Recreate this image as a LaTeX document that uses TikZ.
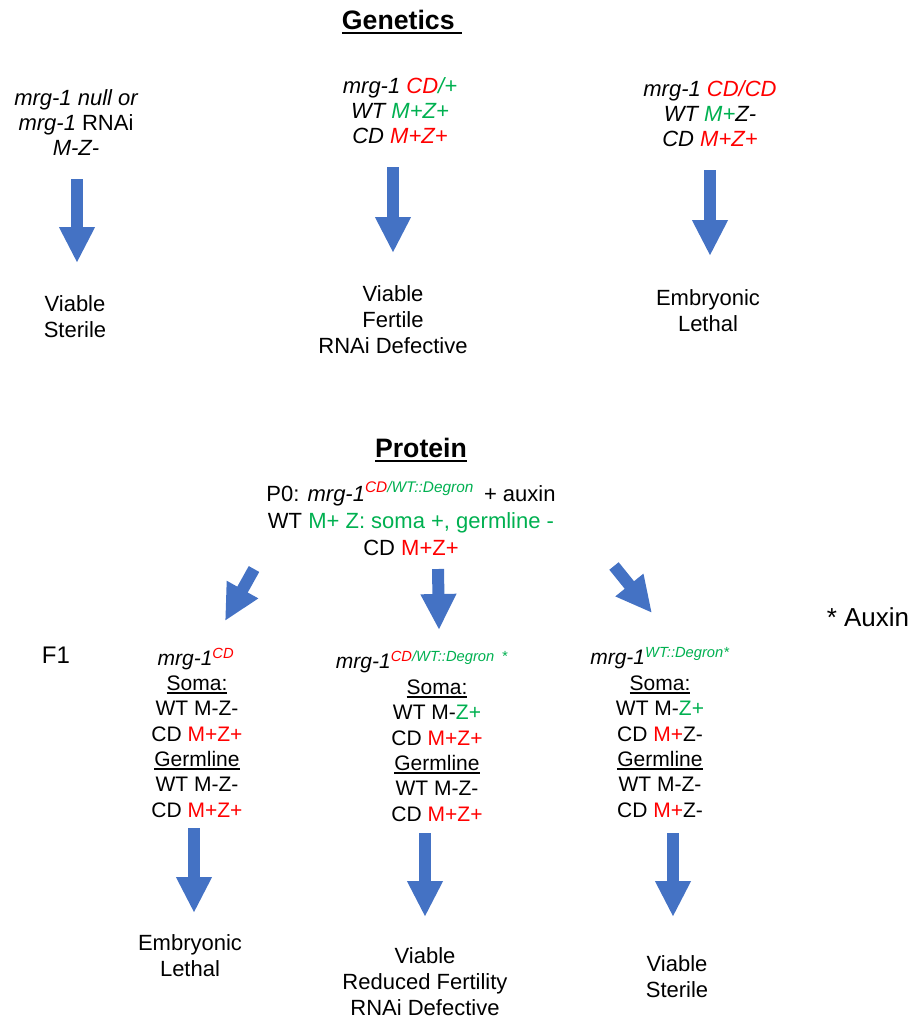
\documentclass[tikz,border=0pt]{standalone}
\usepackage{fontspec}
\setmainfont{Liberation Sans}
\usepackage{tikz}
\usepackage{xcolor}
\usetikzlibrary{arrows.meta}

\definecolor{cdred}{RGB}{255,0,0}
\definecolor{wtgreen}{RGB}{0,176,80}
\definecolor{arrowblue}{RGB}{68,114,196}
\newcommand{\cdc}[1]{\textcolor{cdred}{#1}}
\newcommand{\wtc}[1]{\textcolor{wtgreen}{#1}}
\newcommand{\undl}[3][1.2pt]{\leavevmode\sbox0{#3}\rlap{\rule[#2]{\wd0}{#1}}\usebox0}

\begin{document}
\begin{tikzpicture}[x=0.75pt,y=-0.75pt]
	 \tikzstyle{txt}=[align=center,inner sep=0pt,anchor=base,font=\fontsize{16.5}{18.75}\selectfont]
	 \tikzstyle{result}=[txt,font=\fontsize{16.5}{19.5}\selectfont]
	 \tikzstyle{f1 txt}=[txt,font=\fontsize{15.75}{19}\selectfont]
	 \tikzstyle{heading}=[txt,font=\fontsize{20}{24}\selectfont\bfseries]
	 \tikzstyle{fat arrow}=[draw=arrowblue,line width=9pt,-{Triangle[length=27pt,width=25pt]}]
	 \useasboundingbox (0,0) rectangle (915,1018);
	 % genetics (multi-line nodes sit on their last baseline)
	 \node[heading] (gen) at (402,29) {\undl[2pt]{-4pt}{Genetics\ }};
	 \node[txt] (g1) at (76,155) {{\itshape mrg-1 null or}\\{\itshape mrg-1} RNAi\\{\itshape M-Z-}};
	 \node[txt] (g2) at (400,143) {{\itshape mrg-1 \cdc{CD}\wtc{/+}}\\{\itshape WT \wtc{M+Z+}}\\{\itshape CD \cdc{M+Z+}}};
	 \node[txt] (g3) at (710,146) {{\itshape mrg-1 \cdc{CD/CD}}\\{\itshape WT \wtc{M+}Z-}\\{\itshape CD \cdc{M+Z+}}};
	 \node[result] (r1) at (75,337) {Viable\\Sterile};
	 \node[result] (r2) at (393,353) {Viable\\Fertile\\RNAi Defective};
	 \node[result] (r3) at (708,331) {Embryonic\\Lethal};
	 \coordinate (g1a) at (77,179);  \coordinate (r1a) at (77,263);
	 \coordinate (g2a) at (393,167); \coordinate (r2a) at (393,253);
	 \coordinate (g3a) at (710,170); \coordinate (r3a) at (710,256);
	 \draw[fat arrow] (g1a) -- (r1a);
	 \draw[fat arrow] (g2a) -- (r2a);
	 \draw[fat arrow] (g3a) -- (r3a);
	 % protein
	 \node[heading] (prot) at (421,457) {\undl[2pt]{-4pt}{Protein}};
	 \node[txt,font=\fontsize{16.5}{20.25}\selectfont] (p0) at (411,555) {P0: {\itshape mrg-1}\textsuperscript{\itshape\cdc{CD}\wtc{/WT::Degron}}\hspace{0.45em}+ auxin\\WT \wtc{M+ Z: soma +, germline -}\\CD \cdc{M+Z+}};
	 \node[txt,font=\fontsize{19.5}{22}\selectfont] (aux) at (868,626) {* Auxin};
	 \node[txt,font=\fontsize{18}{22}\selectfont] (f1) at (56,663) {F1};
	 \node[f1 txt] (ta) at (196,665) {{\itshape mrg-1}\textsuperscript{\itshape\cdc{CD}}};
	 \node[f1 txt] (tb) at (422,668) {{\itshape mrg-1}\textsuperscript{\itshape\cdc{CD}\wtc{/WT::Degron\hspace{0.5em}*}}};
	 \node[f1 txt] (tc) at (660,664) {{\itshape mrg-1}\textsuperscript{\itshape\wtc{WT::Degron*}}};
	 \node[f1 txt] (ba) at (197,817) {\undl{-2.6pt}{Soma:}\\WT M-Z-\\CD \cdc{M+Z+}\\\undl{-2.6pt}{Germline}\\WT M-Z-\\CD \cdc{M+Z+}};
	 \node[f1 txt] (bb) at (437,821) {\undl{-2.6pt}{Soma:}\\WT M-\wtc{Z+}\\CD \cdc{M+Z+}\\\undl{-2.6pt}{Germline}\\WT M-Z-\\CD \cdc{M+Z+}};
	 \node[f1 txt] (bc) at (660,817) {\undl{-2.6pt}{Soma:}\\WT M-\wtc{Z+}\\CD \cdc{M+}Z-\\\undl{-2.6pt}{Germline}\\WT M-Z-\\CD \cdc{M+}Z-};
	 \coordinate (p0a) at (254,569); \coordinate (taa) at (225,621);
	 \coordinate (p0b) at (438,569); \coordinate (tba) at (439,630);
	 \coordinate (p0c) at (614,566); \coordinate (tca) at (652,613);
	 \draw[fat arrow] (p0a) -- (taa);
	 \draw[fat arrow] (p0b) -- (tba);
	 \draw[fat arrow] (p0c) -- (tca);
	 \node[result] (ea) at (190,976) {Embryonic\\Lethal};
	 \node[result] (eb) at (425,1015) {Viable\\Reduced Fertility\\RNAi Defective};
	 \node[result] (ec) at (677,997) {Viable\\Sterile};
	 \coordinate (baa) at (194,828); \coordinate (eaa) at (194,913);
	 \coordinate (bba) at (425,833); \coordinate (eba) at (425,917);
	 \coordinate (bca) at (673,833); \coordinate (eca) at (673,917);
	 \draw[fat arrow] (baa) -- (eaa);
	 \draw[fat arrow] (bba) -- (eba);
	 \draw[fat arrow] (bca) -- (eca);
\end{tikzpicture}
\end{document}
